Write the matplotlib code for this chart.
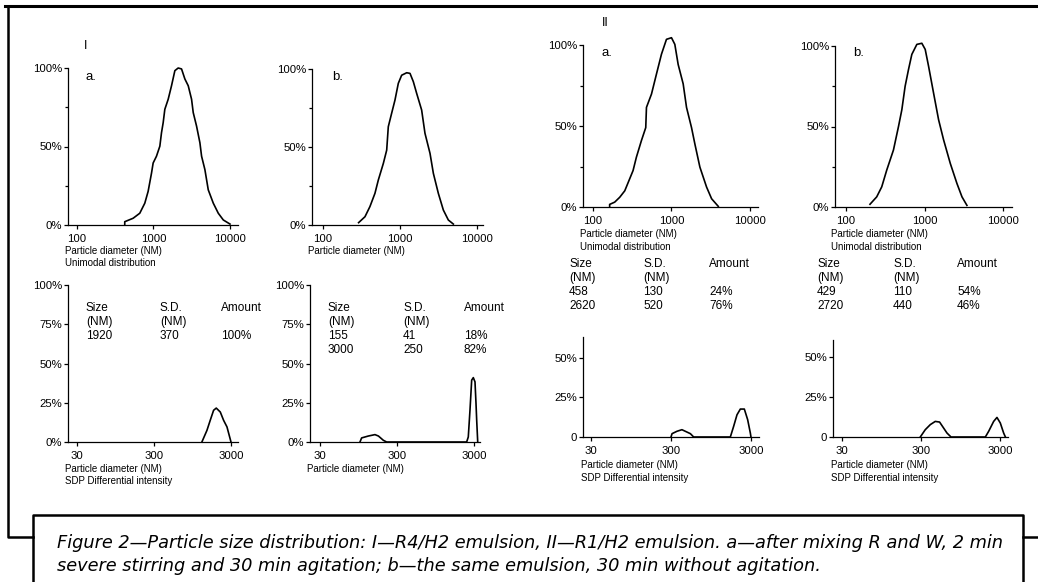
import matplotlib
matplotlib.use("Agg")
import matplotlib.pyplot as plt
from matplotlib.lines import Line2D
from matplotlib.ticker import NullLocator

W, H = 1038, 582

# --- size distributions, diameter (nm) vs. relative amount (%) ---
# series I, panel a, unimodal
ia_uni_d = [421, 421, 542, 662, 770, 851, 942, 990, 1094, 1211, 1273, 1339, 1407, 1557,
            1721, 1903, 2104, 2327, 2573, 2846, 3146, 3308, 3656, 4044, 4254, 4699,
            5200, 6050, 7030, 8180, 10000]
ia_uni_p = [0, 2.1, 4.3, 7.5, 13.9, 21.4, 33, 39.5, 43.8, 50.2, 58.8, 65.2, 73.7, 80.1,
            88.7, 98.3, 100, 99.4, 93, 88.7, 80.1, 71.6, 63, 52.4, 43.8, 35.3,
            22.4, 13.9, 7.5, 3.2, 0.6]
# series I, panel b, unimodal
ib_uni_d = [290, 351, 407, 473, 523, 608, 672, 705, 779, 861, 951, 1051, 1222, 1349,
            1490, 1646, 1911, 2111, 2455, 2713, 3148, 3656, 4246, 4931]
ib_uni_p = [1.5, 5.3, 11.8, 20.3, 28.8, 39.5, 48, 63, 71.6, 80.1, 90.8, 96, 97.6, 97.2,
            91.9, 84.4, 73.7, 58.8, 45.9, 33.1, 20.3, 9.6, 3.2, 0.6]
# series II, panel a, unimodal
iia_uni_d = [163, 163, 189, 219, 254, 280, 324, 357, 414, 470, 480, 556, 643, 745, 863,
             1000, 1103, 1216, 1409, 1554, 1800, 1986, 2301, 2799, 3243, 3944]
iia_uni_p = [0, 1.6, 3, 6, 10, 15, 22.5, 30.7, 41, 49, 61.5, 69.7, 82, 94.3, 103.5,
             104.5, 100.4, 88, 76, 61.5, 49, 38.9, 24.6, 12.3, 5.1, 0.4]
# series II, panel b, unimodal
iib_uni_d = [202, 246, 285, 330, 402, 466, 514, 566, 625, 689, 798, 924, 1020, 1125,
             1303, 1510, 1749, 2127, 2587, 2998, 3467]
iib_uni_p = [1.7, 6.3, 12.5, 22.9, 35.4, 50, 60.4, 75, 85.4, 94.8, 101, 101.7, 97.9, 87.5,
             70.8, 54.2, 41.7, 27.1, 14.6, 6.3, 1]

# SDP differential intensity
ia_sdp_d = [1256, 1461, 1612, 1783, 1931, 2178, 2406, 2661, 3000]
ia_sdp_p = [0, 7.4, 13.8, 20.2, 21.6, 19.1, 13.8, 9.6, 0]
ib_sdp_d = [99, 104, 127, 155, 172, 199, 220, 2408, 2529, 2660, 2799, 2939, 3091, 3186,
            3252, 3353]
ib_sdp_p = [0, 2.6, 3.8, 4.7, 3.8, 1.1, 0, 0, 3.2, 20.2, 39.4, 41, 38.3, 24.5, 13.8, 0]
iia_sdp_d = [300, 309, 356, 411, 453, 524, 576, 1656, 1821, 2006, 2209, 2478, 2727,
             2946, 3000]
iia_sdp_p = [0, 2.1, 3.6, 4.6, 3.6, 2.1, 0, 0, 6.7, 14, 17.6, 17.6, 10.9, 2.5, 0]
iib_sdp_d = [294, 340, 394, 455, 516, 581, 640, 720, 1958, 2159, 2494, 2747, 3029,
             3338, 3514]
iib_sdp_p = [0, 4.6, 7.8, 9.8, 9.4, 5.6, 2.5, 0, 0, 3.6, 9.8, 12.3, 8.8, 2.5, 0]

# fitted populations: size (nm), s.d. (nm), amount
ia_table = [["1920", "370", "100%"]]
ib_table = [["155", "41", "18%"], ["3000", "250", "82%"]]
iia_table = [["458", "130", "24%"], ["2620", "520", "76%"]]
iib_table = [["429", "110", "54%"], ["2720", "440", "46%"]]

caption_lines = [
    "Figure 2\u2014Particle size distribution: I\u2014R4/H2 emulsion, II\u2014R1/H2 "
    "emulsion. a\u2014after mixing R and W, 2 min",
    "severe stirring and 30 min agitation; b\u2014the same emulsion, 30 min without "
    "agitation.",
]

plt.rcParams['font.family'] = ['Liberation Sans', 'DejaVu Sans']

fig = plt.figure(figsize=(W / 100, H / 100), dpi=100)


def fx(x):
    return x / W


def fy(y):
    return 1 - y / H


def px_axes(l, t, r, b):
    return fig.add_axes([fx(l), fy(b), (r - l) / W, (b - t) / H])


def ftext(x, y, s, **kw):
    kw.setdefault('fontsize', 7)
    kw.setdefault('va', 'center')
    fig.text(fx(x), fy(y), s, **kw)


def style(ax, xticks, xlim, ylim, yticks, ylabels, yminor=()):
    ax.set_xscale('log')
    ax.set_xlim(*xlim)
    ax.set_ylim(*ylim)
    ax.set_xticks(xticks, [str(t) for t in xticks])
    ax.xaxis.set_minor_locator(NullLocator())
    ax.set_yticks(yticks, ylabels)
    ax.set_yticks(list(yminor), minor=True)
    for s in ('top', 'right'):
        ax.spines[s].set_visible(False)
    for s in ('left', 'bottom'):
        ax.spines[s].set_linewidth(0.9)
    ax.tick_params(direction='out', length=3, width=0.9, labelsize=8.2)
    ax.tick_params(axis='x', pad=3.5)
    ax.tick_params(axis='y', pad=1.2)
    ax.tick_params(which='minor', direction='out', length=2.5, width=0.9)
    ax.patch.set_alpha(0)


def curve(ax, d, p):
    ax.plot(d, p, color='black', lw=1.2, clip_on=False, solid_joinstyle='round')


def table(cols, rows_y, data):
    heads = [["Size", "S.D.", "Amount"], ["(NM)", "(NM)", ""]] + data
    for row, y in zip(heads, rows_y):
        for cell, x in zip(row, cols):
            ftext(x, y, cell, fontsize=8.5)


top_ticks = [0, 50, 100]
top_labels = ['0%', '50%', '100%']

# upper row: unimodal distributions
ax = px_axes(68, 68, 238, 225)
style(ax, [100, 1000, 10000], (76.3, 12730), (0, 100), top_ticks, top_labels, (25, 75))
curve(ax, ia_uni_d, ia_uni_p)

ax = px_axes(312, 69, 483, 225)
style(ax, [100, 1000, 10000], (72, 11970), (0, 100), top_ticks, top_labels, (25, 75))
curve(ax, ib_uni_d, ib_uni_p)

ax = px_axes(583, 45, 758, 207)
style(ax, [100, 1000, 10000], (74.6, 12650), (0, 100), top_ticks, top_labels, (25, 75))
curve(ax, iia_uni_d, iia_uni_p)

ax = px_axes(835, 46, 1012, 207)
style(ax, [100, 1000, 10000], (72.4, 13000), (0, 100), top_ticks, top_labels, (25, 75))
curve(ax, iib_uni_d, iib_uni_p)

# lower row: SDP differential intensity
ax = px_axes(68, 285, 238, 442)
style(ax, [30, 300, 3000], (22.9, 3700), (0, 100), [0, 25, 50, 75, 100],
      ['0%', '25%', '50%', '75%', '100%'])
curve(ax, ia_sdp_d, ia_sdp_p)

ax = px_axes(310, 285, 480, 442)
style(ax, [30, 300, 3000], (22.2, 3590), (0, 100), [0, 25, 50, 75, 100],
      ['0%', '25%', '50%', '75%', '100%'])
curve(ax, ib_sdp_d, ib_sdp_p)

ax = px_axes(583, 337, 759, 437)
style(ax, [30, 300, 3000], (23.8, 3780), (0, 63), [0, 25, 50], ['0', '25%', '50%'])
curve(ax, iia_sdp_d, iia_sdp_p)

ax = px_axes(833, 340, 1008, 437)
style(ax, [30, 300, 3000], (23.1, 3790), (0, 61), [0, 25, 50], ['0', '25%', '50%'])
curve(ax, iib_sdp_d, iib_sdp_p)

# panel letters
ftext(84, 46, "I", fontsize=9)
ftext(86, 77, "a.", fontsize=9.5)
ftext(332, 77, "b.", fontsize=9.5)
ftext(602, 23, "II", fontsize=9)
ftext(602, 53, "a.", fontsize=9.5)
ftext(853, 53, "b.", fontsize=9.5)

# axis captions
ftext(65, 251, "Particle diameter (NM)")
ftext(65, 263, "Unimodal distribution")
ftext(308, 251, "Particle diameter (NM)")
ftext(580, 234, "Particle diameter (NM)")
ftext(580, 247, "Unimodal distribution")
ftext(831, 234, "Particle diameter (NM)")
ftext(831, 247, "Unimodal distribution")
ftext(65, 469, "Particle diameter (NM)")
ftext(65, 481, "SDP Differential intensity")
ftext(307, 469, "Particle diameter (NM)")
ftext(581, 465, "Particle diameter (NM)")
ftext(581, 478, "SDP Differential intensity")
ftext(831, 465, "Particle diameter (NM)")
ftext(831, 478, "SDP Differential intensity")

# fit tables
table([86, 160, 221], [308, 322, 336], ia_table)
table([328, 403, 464], [308, 322, 336, 350], ib_table)
table([569, 643, 709], [264, 278, 292, 306], iia_table)
table([817, 893, 957], [264, 278, 292, 306], iib_table)


# frame and caption box
def fline(xs, ys, lw):
    fig.add_artist(Line2D([fx(x) for x in xs], [fy(y) for y in ys],
                          color='black', lw=lw, solid_capstyle='projecting'))


fline([5, 1038], [6, 6], 2.2)
fline([8, 8, 33], [6, 537, 537], 1.8)
fline([33, 33, 1023, 1023], [590, 515, 515, 590], 1.8)
fline([1023, 1038], [537, 537], 1.8)

for line, y in zip(caption_lines, [543, 566]):
    ftext(57, y, line, fontsize=12.8, style='italic', family=['DejaVu Sans'])

fig.savefig("out.png", dpi=100)
